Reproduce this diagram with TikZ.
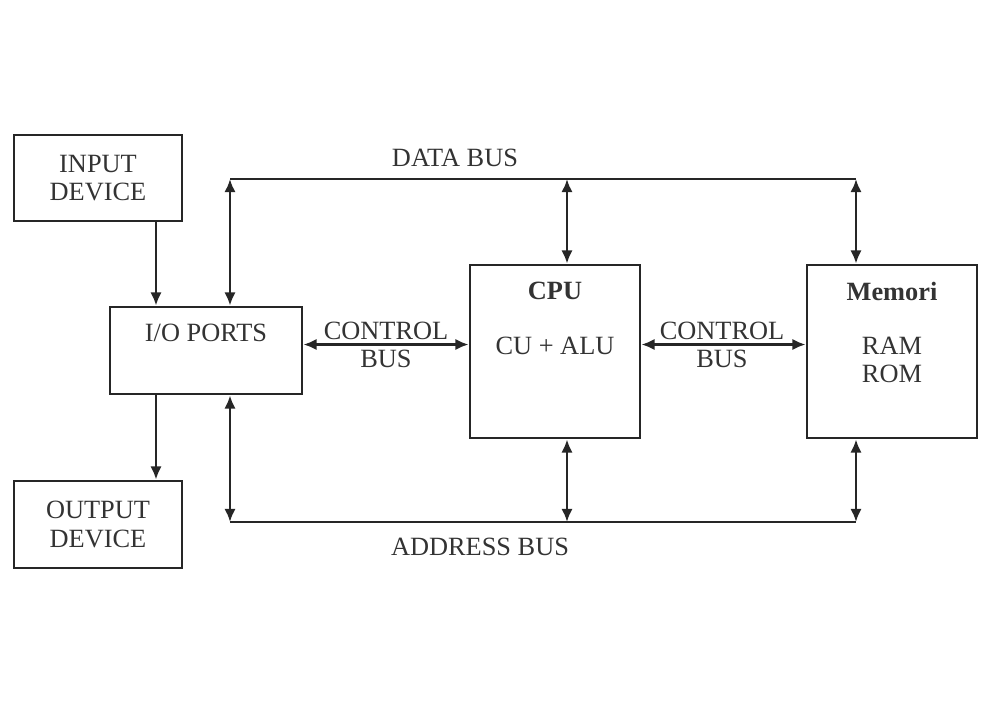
\documentclass[tikz,border=0pt]{standalone}
\usepackage{fontspec}
\setmainfont{Liberation Serif}
\usetikzlibrary{positioning,arrows.meta}
\begin{document}
\begin{tikzpicture}[
    x=0.02cm, y=-0.02cm,
    font=\fontsize{15}{16}\selectfont,
    box/.style={rectangle, draw=black!85, line width=1.6pt, inner sep=0pt, align=center, text=black!80},
    txt/.style={inner sep=0pt, align=center, text=black!80},
    arrow/.style={{Latex[length=7.5pt,width=6.5pt]}-{Latex[length=7.5pt,width=6.5pt]}, line width=1.6pt, black!85},
    arrowone/.style={-{Latex[length=7.5pt,width=6.5pt]}, line width=1.6pt, black!85},
    bus/.style={line width=1.6pt, black!85}
]
\useasboundingbox (0,0) rectangle (991,714);

% Devices
\node[box, minimum width=3.36cm, minimum height=1.72cm] (input) at (98,178) {INPUT\\DEVICE};
\node[box, minimum width=3.36cm, minimum height=1.74cm] (output) at (98,524.5) {OUTPUT\\DEVICE};
\node[box, minimum width=3.84cm, minimum height=1.74cm] (io) at (206,350.5) {};
\node[txt] (iotext) at (206,333) {I/O PORTS};

% CPU and memory
\node[box, minimum width=3.4cm, minimum height=3.46cm] (cpu) at (555,351.5) {};
\node[txt, font=\fontsize{15}{16}\selectfont\bfseries] (cputitle) at (555,291) {CPU};
\node[txt] (cputext) at (555,346) {CU + ALU};
\node[box, minimum width=3.4cm, minimum height=3.46cm] (mem) at (892,351.5) {};
\node[txt, font=\fontsize{15}{16}\selectfont\bfseries] (memtitle) at (892,291) {Memori};
\node[txt] (memtext) at (892,360) {RAM\\ROM};

% Bus labels
\node[txt] (ctrlone) at (386,344.5) {CONTROL\\BUS};
\node[txt] (ctrltwo) at (722,344.5) {CONTROL\\BUS};
\node[txt] (databus) at (455,158) {DATA BUS};
\node[txt] (addrbus) at (480,547) {ADDRESS BUS};

% Bus corners
\coordinate (d1) at (230,179);
\coordinate (d2) at (567,179);
\coordinate (d3) at (856,179);
\coordinate (a1) at (230,522);
\coordinate (a2) at (567,522);
\coordinate (a3) at (856,522);
\coordinate (iox) at (156,0);

% Arrows
\draw[arrowone] (input.south -| iox) -- (io.north -| iox);
\draw[arrowone] (io.south -| iox) -- (output.north -| iox);
\draw[bus] (d1) -- (d3);
\draw[arrow] (d1) -- (d1 |- io.north);
\draw[arrow] (d2) -- (d2 |- cpu.north);
\draw[arrow] (d3) -- (d3 |- mem.north);
\draw[bus] (a1) -- (a3);
\draw[arrow] (a1) -- (a1 |- io.south);
\draw[arrow] (a2) -- (a2 |- cpu.south);
\draw[arrow] (a3) -- (a3 |- mem.south);
\draw[arrow] (io.east |- ctrlone) -- (cpu.west |- ctrlone);
\draw[arrow] (cpu.east |- ctrltwo) -- (mem.west |- ctrltwo);

\end{tikzpicture}
\end{document}
